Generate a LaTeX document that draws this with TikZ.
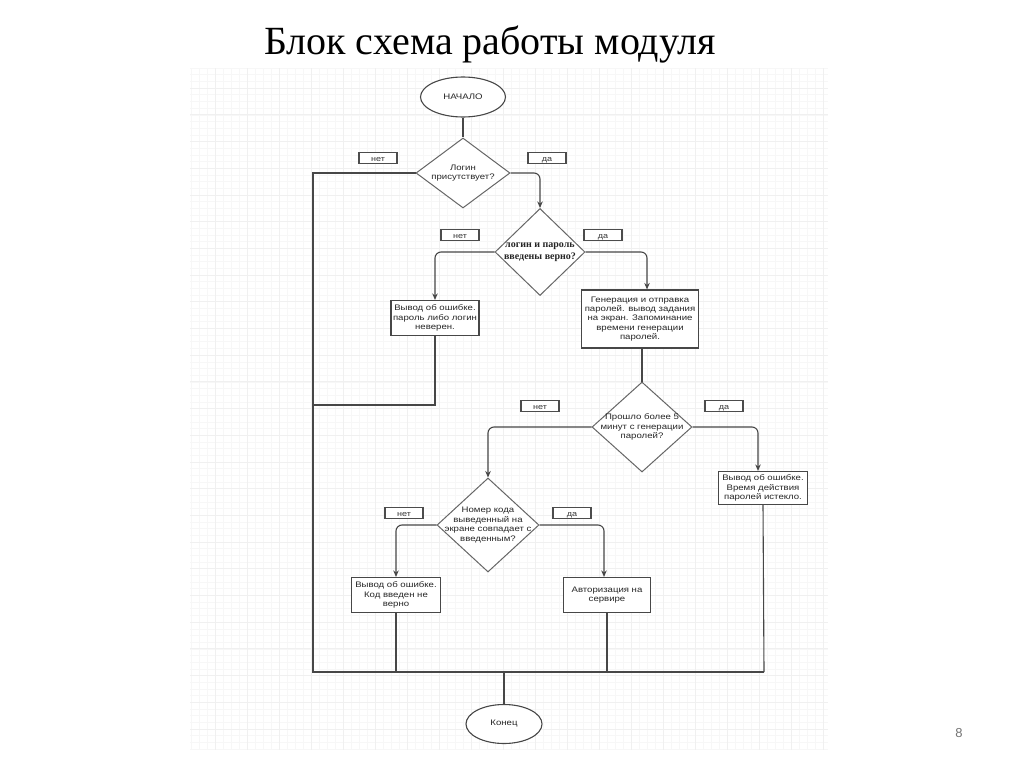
\documentclass[tikz,border=0pt]{standalone}
\usepackage{fontspec}
\setmainfont{Liberation Serif}
\newfontfamily\schfont[FakeStretch=1.2]{Liberation Sans}
\newfontfamily\pgfont{Liberation Sans}
\usetikzlibrary{shapes.geometric,arrows.meta}

\colorlet{lncol}{black!72}
\newcommand{\schsz}{\schfont\fontsize{8}{9.4}\selectfont}

\tikzset{
  gridmaj/.style={draw=black!6, line width=0.5pt},
  gridmin/.style={draw=black!3, line width=0.4pt},
  ln/.style={draw=lncol, line width=1.1pt},
  arr/.style={ln, rounded corners=6pt, -{Stealth[length=6.5pt,width=5.5pt]}},
  blk/.style={draw=lncol, line width=1.1pt, fill=white, align=center, inner sep=1pt, text=black!85, font=\schsz},
  oval/.style={blk, ellipse},
  dia/.style={draw=black!60, line width=1pt, fill=white, diamond, inner sep=0pt},
  dtxt/.style={align=center, text=black!85, font=\schsz},
  yn/.style={draw=black!70, line width=1.8pt, fill=white, minimum width=38pt, minimum height=11pt, inner sep=0pt,
    text height=6.5pt, text depth=0pt, text=black!80, font=\schfont\fontsize{7.5}{8}\selectfont}
}

\begin{document}
\begin{tikzpicture}[x=1pt, y=-1pt]

\useasboundingbox (0,0) rectangle (1024,767);

\foreach \gx in {191,199,...,828} \draw[gridmin] (\gx,68) -- (\gx,750);
\foreach \gy in {68,74.675,...,750} \draw[gridmin] (190,\gy) -- (828,\gy);
\foreach \gx in {215,247,...,828} \draw[gridmaj] (\gx,68) -- (\gx,750);
\foreach \gy in {88,114.7,...,750} \draw[gridmaj] (190,\gy) -- (828,\gy);

\node (title) at (490,45) {\fontsize{40}{48}\selectfont Блок схема работы модуля};
\node[text=black!55, font=\pgfont\fontsize{13}{15}\selectfont] (pnum) at (959,733) {8};

\node[oval, minimum width=85pt, minimum height=40pt] (start) at (463,97) {НАЧАЛО};

\node[dia, minimum width=94pt, minimum height=70pt,
  label={[dtxt]center:{Логин\\присутствует?}}] (d1) at (463,173) {};
\node[dia, minimum width=90pt, minimum height=87pt,
  label={[align=center, text=black!85, font=\bfseries\fontsize{10}{12}\selectfont]center:{логин и пароль\\введены верно?}}] (d2) at (540,252) {};
\node[dia, minimum width=100pt, minimum height=90pt,
  label={[dtxt]center:{Прошло более 5\\минут с генерации\\паролей?}}] (d3) at (642,427) {};
\node[dia, minimum width=102pt, minimum height=94pt,
  label={[dtxt]center:{Номер кода\\выведенный на\\экране совпадает с\\введенным?}}] (d4) at (488,525) {};

\node[blk, minimum width=88pt, minimum height=35pt] (e1) at (435,318) {Вывод об ошибке.\\пароль либо логин\\неверен.};
\node[blk, minimum width=117pt, minimum height=58pt] (e2) at (640,319) {Генерация и отправка\\паролей. вывод задания\\на экран. Запоминание\\времени генерации\\паролей.};
\node[blk, minimum width=89pt, minimum height=33pt] (e3) at (763,488) {Вывод об ошибке.\\Время действия\\паролей истекло.};
\node[blk, minimum width=89pt, minimum height=35pt] (e4) at (396,595) {Вывод об ошибке.\\Код введен не\\верно};
\node[blk, minimum width=87pt, minimum height=35pt] (e5) at (607,595) {Авторизация на\\сервире};

\node[oval, minimum width=76pt, minimum height=39pt] (stop) at (504,724) {Конец};

\node[yn] (n1) at (378,158) {нет};
\node[yn] (y1) at (547,158) {да};
\node[yn] (n2) at (460,235) {нет};
\node[yn] (y2) at (603,235) {да};
\node[yn] (n3) at (540,406) {нет};
\node[yn] (y3) at (724,406) {да};
\node[yn] (n4) at (404,513) {нет};
\node[yn] (y4) at (572,513) {да};

\coordinate (busL) at (313,672);
\coordinate (busR) at (764,672);
\coordinate (j1) at (313,405);

\draw[ln] (start) -- (d1);
\draw[ln] (d1.west) -| (busL) -- (busR);
\draw[arr] (d1.east) -| (d2.north);
\draw[arr] (d2.west) -| (e1.north);
\draw[arr] (d2.east) -| ([xshift=7pt]e2.north);
\draw[ln] (e1.south) |- (j1);
\draw[ln] (d3.north |- e2.south) -- (d3.north);
\draw[arr] (d3.west) -| (d4.north);
\draw[arr] (d3.east) -| ([xshift=-5pt]e3.north);
\draw[arr] (d4.west) -| (e4.north);
\draw[arr] (d4.east) -| ([xshift=-3pt]e5.north);
\draw[ln] (e4.south) -- (e4.south |- busL);
\draw[ln] (e5.south) -- (e5.south |- busL);
\draw[ln] (e3.south) -- (busR);
\draw[ln] (stop.north) -- (stop.north |- busL);

\end{tikzpicture}
\end{document}
